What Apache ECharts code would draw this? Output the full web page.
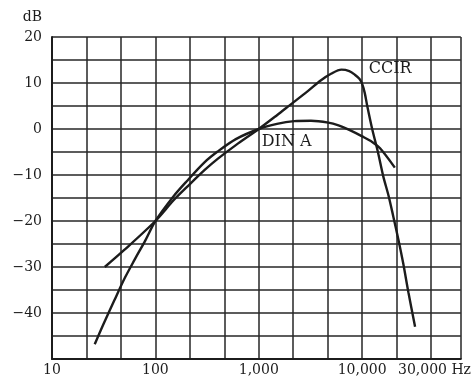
<!DOCTYPE html>
<html><head><meta charset="utf-8">
<script src="https://cdn.jsdelivr.net/npm/echarts@6/dist/echarts.min.js"></script>
<style>html,body{margin:0;padding:0;background:#fff}#c{width:474px;height:377px}</style>
</head><body><div id="c"></div>
<script>
// Weighting curves: frequency in Hz, response in dB
const ccirFreq = [32.4, 50, 100, 150, 200, 300, 400, 600, 1000, 1500, 2000, 3000, 4000, 5000, 6300, 7500, 8500, 9400, 10000, 10600, 11200, 12500, 14200, 16000, 18000, 20000, 22400, 25000, 28000, 32500];
const ccirDb   = [-30, -26.3, -20, -15.5, -12.7, -8.9, -6.5, -3.5, 0, 3.0, 5.2, 8.3, 10.6, 12.0, 12.9, 12.6, 11.8, 10.9, 9.8, 7.8, 5, 0, -5, -10.3, -14.5, -19, -24, -29.3, -35.5, -43];
const dinFreq  = [25.9, 31.5, 40, 50, 63, 80, 100, 150, 200, 300, 400, 600, 1000, 1500, 2200, 3200, 4700, 5900, 7500, 10000, 12500, 14900, 20700];
const dinDb    = [-46.8, -42.4, -37.3, -32.6, -28.4, -24.2, -20, -14.6, -11.4, -7.2, -4.9, -2.2, 0, 1.1, 1.7, 1.8, 1.4, 0.8, -0.2, -1.6, -2.8, -4.2, -8.4];
const seriesNames = ['CCIR', 'DIN A'];
const xTickFreqs  = [10, 100, 1000, 10000, 30000];
const xTickLabels = ['10', '100', '1,000', '10,000', '30,000 Hz'];
const yTickValues = [20, 10, 0, -10, -20, -30, -40];
const yTickLabels = ['20', '10', '0', '\u221210', '\u221220', '\u221230', '\u221240'];
const yUnit = 'dB';

const FONT = 'DejaVu Serif';
const INK = '#1c1c1c';
const toPts = (fs, ds) => fs.map((f, i) => [Math.log10(f), ds[i]]);

const chart = echarts.init(document.getElementById('c'), null, {renderer: 'canvas'});
chart.setOption({
  animation: false,
  backgroundColor: '#fff',
  grid: {left: 52, top: 37, width: 411, height: 322, show: false},
  xAxis: {
    type: 'value', min: 1, max: Math.log10(90000), interval: 1 / 3,
    axisLine: {show: true, onZero: false, lineStyle: {color: INK, width: 2}},
    axisTick: {show: false},
    splitLine: {show: true, lineStyle: {color: '#262626', width: 1.5}},
    axisLabel: {
      customValues: xTickFreqs.map(f => Math.log10(f)),
      margin: 4, fontFamily: FONT, fontSize: 14, color: INK,
      formatter: v => {
        const i = xTickFreqs.findIndex(f => Math.abs(Math.log10(f) - v) < 1e-6);
        if (i < 0) return '';
        return i === xTickFreqs.length - 1 ? '{hz|' + xTickLabels[i] + '}' : xTickLabels[i];
      },
      rich: {hz: {padding: [0, 0, 0, 46], fontFamily: FONT, fontSize: 14, color: INK}}
    }
  },
  yAxis: {
    type: 'value', min: -50, max: 20, interval: 5,
    name: yUnit, nameLocation: 'end', nameGap: 13,
    nameTextStyle: {fontFamily: FONT, fontSize: 14, color: INK, align: 'right', padding: [0, 10, 0, 0]},
    axisLine: {show: true, onZero: false, lineStyle: {color: INK, width: 2}},
    axisTick: {show: false},
    splitLine: {show: true, lineStyle: {color: '#262626', width: 1.5}},
    axisLabel: {
      customValues: yTickValues,
      margin: 10, fontFamily: FONT, fontSize: 14, color: INK,
      formatter: v => {
        const i = yTickValues.indexOf(Math.round(v));
        return i < 0 ? '' : yTickLabels[i];
      }
    }
  },
  series: [
    {
      name: seriesNames[0], type: 'line', data: toPts(ccirFreq, ccirDb),
      showSymbol: false, smooth: 0.3, lineStyle: {color: INK, width: 2.4},
      markPoint: {
        silent: true, symbol: 'circle', symbolSize: 0,
        label: {show: true, position: 'inside', formatter: seriesNames[0], fontFamily: FONT, fontSize: 16, color: INK},
        data: [{coord: [4.27, 13.0]}]
      }
    },
    {
      name: seriesNames[1], type: 'line', data: toPts(dinFreq, dinDb),
      showSymbol: false, smooth: 0.3, lineStyle: {color: INK, width: 2.4},
      markPoint: {
        silent: true, symbol: 'circle', symbolSize: 0,
        label: {show: true, position: 'inside', formatter: seriesNames[1], fontFamily: FONT, fontSize: 16, color: INK},
        data: [{coord: [3.27, -2.9]}]
      }
    }
  ]
});
</script>
</body></html>
